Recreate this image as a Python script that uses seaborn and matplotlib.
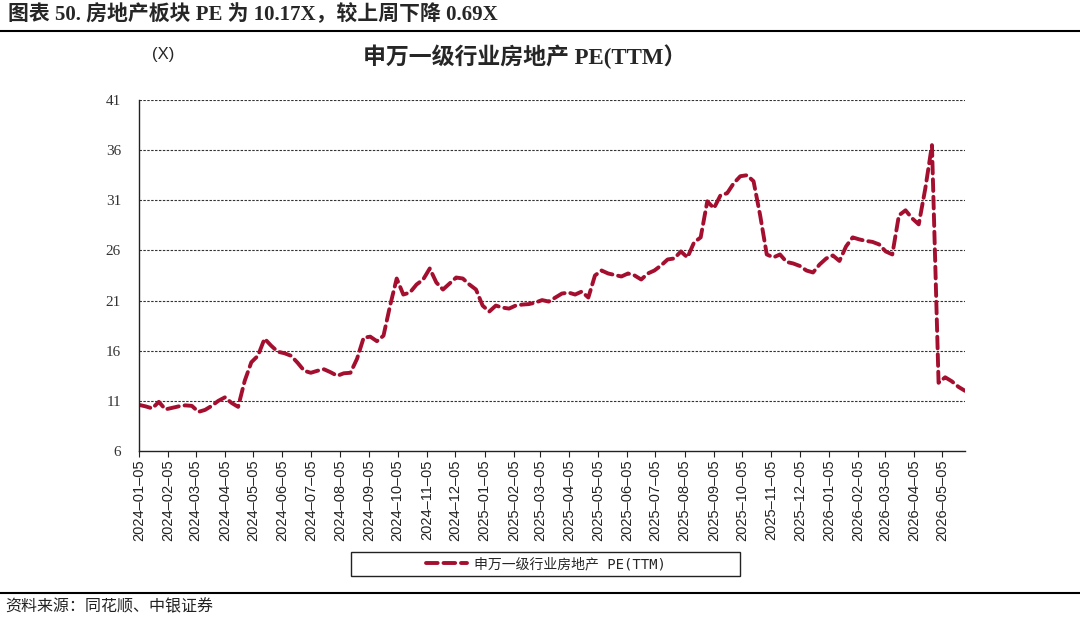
import numpy as np
import pandas as pd
import matplotlib
matplotlib.use("Agg")
import matplotlib.pyplot as plt
from matplotlib.patches import Rectangle
from matplotlib.lines import Line2D
import seaborn as sns

# ---------------- data (weekly) ----------------
start_date = "2024-01-05"
pe_values = [
    10.6, 10.45, 10.25, 10.9, 10.15, 10.3, 10.45, 10.55, 10.5, 9.9,
    10.1, 10.5, 11.0, 11.35, 10.8, 10.4, 13.0, 14.85, 15.5, 17.2,
    16.5, 15.9, 15.75, 15.5, 14.8, 14.0, 13.8, 14.0, 14.15, 13.85,
    13.5, 13.75, 13.8, 15.2, 17.3, 17.4, 16.95, 17.5, 20.5, 23.2,
    21.6, 21.8, 22.6, 23.1, 24.2, 22.8, 22.1, 22.7, 23.3, 23.2,
    22.6, 22.1, 20.5, 19.9, 20.5, 20.3, 20.2, 20.5, 20.6, 20.65,
    20.8, 21.05, 20.9, 21.3, 21.7, 21.8, 21.6, 21.9, 21.3, 23.5,
    24.0, 23.7, 23.55, 23.4, 23.7, 23.5, 23.1, 23.7, 24.0, 24.5,
    25.1, 25.2, 25.9, 25.3, 26.8, 27.3, 30.9, 30.2, 31.5, 31.7,
    32.7, 33.4, 33.5, 32.9, 29.5, 25.6, 25.3, 25.6, 24.85, 24.7,
    24.45, 24.0, 23.8, 24.6, 25.2, 25.5, 24.95, 26.4, 27.3, 27.1,
    26.95, 26.85, 26.6, 25.9, 25.6, 29.5, 30.0, 29.2, 28.6, 32.2,
    36.5, 12.8, 13.35, 12.95, 12.4, 12.0,
]
dates = pd.date_range(start_date, periods=len(pe_values), freq="7D")
series_name = "申万一级行业房地产 PE(TTM)"
df = pd.DataFrame({"date": dates, "pe": pe_values, "series": series_name})

y_ticks = [6, 11, 16, 21, 26, 31, 36, 41]
x_tick_dates = pd.date_range("2024-01-01", "2026-05-01", freq="MS") + pd.Timedelta(days=4)

header_text = "图表 50. 房地产板块 PE 为 10.17X，较上周下降 0.69X"
chart_title = "申万一级行业房地产 PE(TTM）"
unit_text = "(X)"
source_text = "资料来源：同花顺、中银证券"

line_color = "#A50F2F"

# ---------------- style ----------------
sns.set_style("white")
plt.rcParams["font.family"] = ["Liberation Sans", "Noto Sans CJK SC", "DejaVu Sans"]
plt.rcParams["axes.unicode_minus"] = False

fig = plt.figure(figsize=(10.8, 6.21), dpi=100)
ax = fig.add_axes([139/1080, 1-451/621, (965-139)/1080, (451-100)/621])

sns.lineplot(data=df, x="date", y="pe", ax=ax, color=line_color, linewidth=2.8,
             legend=False)
ln = ax.lines[0]
ln.set_dashes((3.0, 1.5))
ln.set_dash_capstyle("round")
ln.set_solid_joinstyle("round")

ax.set_ylim(6, 41)
ax.set_yticks(y_ticks)
ax.set_xlim(pd.Timestamp("2024-01-05"), dates[-1])
ax.set_xticks(x_tick_dates)
ax.set_xticklabels([d.strftime("%Y–%m–%d") for d in x_tick_dates], rotation=90,
                   family=["Liberation Sans"], fontsize=10.5, color="#222222")
for lab in ax.get_yticklabels():
    lab.set_family(["Liberation Serif"])
    lab.set_fontsize(11)
    lab.set_color("#333333")
ax.set_xlabel("")
ax.set_ylabel("")

for yv in y_ticks[1:]:
    ax.axhline(yv, color="#333333", linewidth=0.8, linestyle=(0, (2.2, 1.3)), zorder=0)

for s in ["top", "right"]:
    ax.spines[s].set_visible(False)
for s in ["left", "bottom"]:
    ax.spines[s].set_color("#222222")
    ax.spines[s].set_linewidth(1.0)
ax.tick_params(axis="x", which="major", length=4, width=0.8, color="#222222",
               bottom=True, pad=2)
ax.tick_params(axis="y", which="major", length=0, pad=13)

# ---------------- texts & decorations ----------------
fig.text(8/1080, 1-15/621, header_text, ha="left", va="center", fontsize=15,
         fontweight="bold", family=["Liberation Serif", "Noto Sans CJK SC"])
fig.add_artist(Line2D([0, 1], [1-31/621, 1-31/621], color="black", linewidth=1.5))
fig.text(163/1080, 1-55/621, unit_text, ha="center", va="center", fontsize=12,
         family=["Liberation Sans"])
fig.text(525/1080, 1-57/621, chart_title, ha="center", va="center", fontsize=16.5,
         fontweight="bold", family=["Liberation Serif", "Noto Sans CJK SC"])

fig.add_artist(Rectangle((351/1080, 1-576/621), (740-351)/1080, 24/621,
                         transform=fig.transFigure, fill=False,
                         edgecolor="#222222", linewidth=1.0))
handle = Line2D([], [], color=line_color, linewidth=2.8, dashes=(3.0, 1.5),
                dash_capstyle="round")
fig.legend([handle], [series_name], loc="center", bbox_to_anchor=(546/1080, 1-564/621),
           frameon=False, handlelength=3.0, handletextpad=0.5,
           prop={"family": ["DejaVu Sans Mono", "Noto Sans CJK SC"], "size": 10})

fig.add_artist(Line2D([0, 1], [1-593/621, 1-593/621], color="black", linewidth=1.5))
fig.text(5/1080, 1-607/621, source_text, ha="left", va="center", fontsize=11.5,
         family=["Noto Sans CJK SC"], color="#222222")

fig.savefig("out.png", dpi=100)
